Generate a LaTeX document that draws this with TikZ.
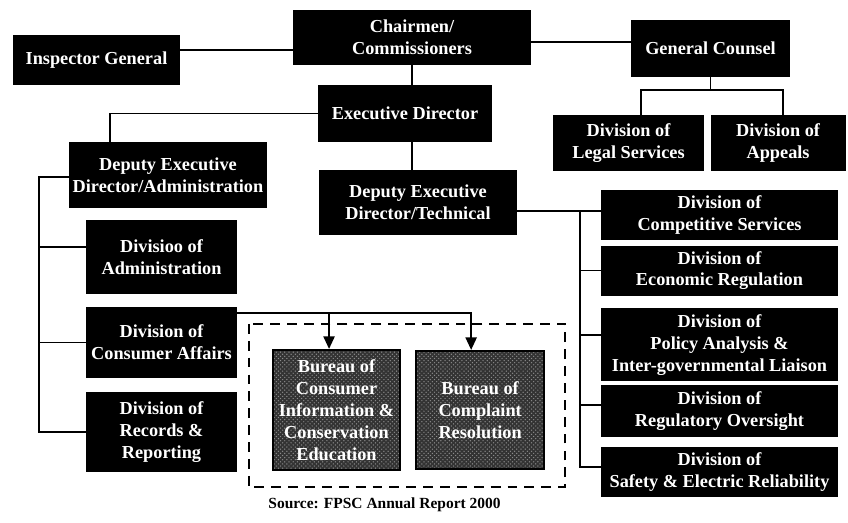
\documentclass[tikz,border=0pt]{standalone}
\usepackage{fontspec}
\setmainfont{Liberation Serif}
\usetikzlibrary{arrows.meta,positioning,patterns}

\begin{document}
\begin{tikzpicture}
[x=0.025cm, y=-0.025cm, >={Triangle[length=9pt,width=8pt]},
% STYLES
office/.style={rectangle, fill=black, text=white, align=center, inner sep=0pt, font=\fontsize{13}{15.6}\selectfont\bfseries},
leftdiv/.style={office, minimum width=3.775cm},
rightdiv/.style={office, minimum width=5.925cm, minimum height=1.25cm},
bureau/.style={office, draw=black, line width=1.5pt, preaction={fill=black!80}, pattern=crosshatch dots, pattern color=white!55!black},
link/.style={line width=1.3pt},
group/.style={line width=1.3pt, dash pattern=on 7pt off 5pt},
source/.style={font=\fontsize{11}{13}\selectfont\bfseries}]

\useasboundingbox (0,0) rectangle (848,523);

% Top level
\node [office, minimum width=5.95cm, minimum height=1.375cm] (chair) at (412,37.5) {Chairmen/\\Commissioners};
\node [office, minimum width=4.175cm, minimum height=1.25cm] (inspector) at (96.5,60) {Inspector General};
\node [office, minimum width=3.975cm, minimum height=1.425cm] (counsel) at (710.5,48.5) {General Counsel};
\node [office, minimum width=4.35cm, minimum height=1.425cm] (execdir) at (405,113.5) {Executive Director};

% Counsel
\node [office, minimum width=3.775cm, minimum height=1.4cm] (legal) at (628.5,143) {Division of\\Legal Services};
\node [office, minimum width=3.375cm, minimum height=1.4cm, right=0.15cm of legal] (appeals) {Division of\\Appeals};

% Deputies
\node [office, minimum width=4.95cm, minimum height=1.65cm] (dedadmin) at (168,175) {Deputy Executive\\Director/Administration};
\node [office, minimum width=4.95cm, minimum height=1.625cm] (dedtech) at (418,202.5) {Deputy Executive\\Director/Technical};

% Administration side
\node [leftdiv, minimum height=1.85cm] (divadmin) at (161.5,257) {Divisioo of\\Administration};
\node [leftdiv, minimum height=1.775cm] (consumer) at (161.5,342.5) {Division of\\Consumer Affairs};
\node [leftdiv, minimum height=2cm] (records) at (161.5,432) {Division of\\Records \&\\Reporting};

\node [bureau, minimum width=3.175cm, minimum height=3cm] (infoed) at (336.5,410) {Bureau of\\Consumer\\Information \&\\Conservation\\Education};
\node [bureau, minimum width=3.2cm, minimum height=2.95cm, right=0.35cm of infoed] (compl) {Bureau of\\Complaint\\Resolution};

% Technical side
\node [rightdiv] (compet) at (719.5,215) {Division of\\Competitive Services};
\node [rightdiv, below=0.125cm of compet] (econ) {Division of\\Economic Regulation};
\node [rightdiv, minimum height=1.825cm, below=0.3cm of econ] (policy) {Division of\\Policy Analysis \&\\Inter-governmental Liaison};
\node [rightdiv, minimum height=1.3cm, below=0.075cm of policy] (oversight) {Division of\\Regulatory Oversight};
\node [rightdiv, below=0.25cm of oversight] (safety) {Division of\\Safety \& Electric Reliability};

\node [source] (source) at (384.5,505) {Source: FPSC Annual Report 2000};

%%%%%%%%%%%%%%%%

\draw[link] ([yshift=7pt]inspector.east) -- ([yshift=7pt]inspector.east -| chair.west);
\draw[link] ([yshift=4.6pt]counsel.west) -- ([yshift=4.6pt]counsel.west -| chair.east);
\draw[link] (chair.south) -- (chair.south |- execdir.north);
\draw[link] (chair.south |- execdir.south) -- (chair.south |- dedtech.north);
\draw[link] (execdir.west) -| ([xshift=-41.3pt]dedadmin.north);

% counsel divisions
\draw[link] (counsel.south) -- ++(0,13) coordinate (gc-split);
\draw[link] ([xshift=8.9pt]legal.north) |- (gc-split) -| ([xshift=3.2pt]appeals.north);

% administration bus
\draw[link] ([yshift=-1.4pt]dedadmin.west) -- ++(-30,0) |- (records.west);
\draw[link] ([yshift=7pt]divadmin.west) -- ++(-47,0);
\draw[link] (consumer.west) -- ++(-47,0);

% technical bus
\draw[link] ([yshift=-6pt]dedtech.east) -- ([yshift=-6pt]dedtech.east -| compet.west);
\draw[link] ([yshift=3.5pt]safety.west) -- ++(-21,0) |- ([yshift=-6pt]dedtech.east);
\draw[link] (econ.west) -- ++(-21,0);
\draw[link] ([yshift=6.8pt]policy.west) -- ++(-21,0);
\draw[link] ([yshift=4.3pt]oversight.west) -- ++(-21,0);

% consumer affairs to bureaus
\draw[link,->] ([yshift=-4.3pt]consumer.north east) -| ([xshift=-6.4pt]compl.north);
\draw[link,->] ([yshift=-4.3pt]consumer.north east) -| ([xshift=-5.3pt]infoed.north);
\draw[group] ([xshift=-16.4pt,yshift=17.8pt]infoed.north west) rectangle ([xshift=14.2pt,yshift=-12.1pt]compl.south east);

\end{tikzpicture}
\end{document}
